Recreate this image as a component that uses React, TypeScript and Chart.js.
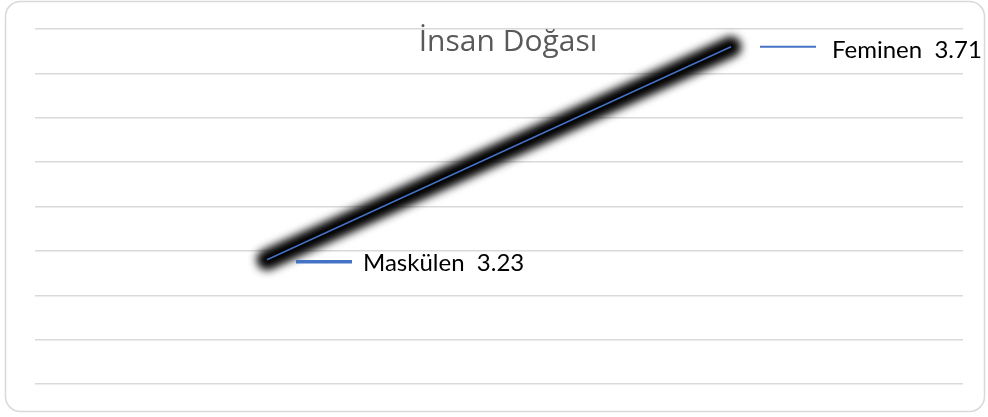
import React, { useEffect, useRef } from "react";
import { Chart, registerables } from "chart.js";

Chart.register(...registerables);

const categories = ["Maskülen", "Feminen"];
const values = [3.23, 3.71];
const gridValues = [2.95, 3.05, 3.15, 3.25, 3.35, 3.45, 3.55, 3.65, 3.75];
const titleText = "İnsan Doğası";

const LABEL_FONT = "Lato";
const TITLE_FONT = "'Open Sans'";

const decorPlugin = {
  id: "decor",
  beforeDraw(chart: any) {
    const ctx = chart.ctx;
    ctx.save();
    ctx.fillStyle = "#ffffff";
    ctx.fillRect(0, 0, chart.width, chart.height);
    ctx.strokeStyle = "#d9d9d9";
    ctx.lineWidth = 1.5;
    ctx.beginPath();
    (ctx as any).roundRect(5.5, 1.5, 979, 410, 15);
    ctx.stroke();
    ctx.restore();
  },
  beforeDatasetDraw(chart: any, args: any) {
    if (args.index === 1) {
      chart.ctx.save();
      chart.ctx.filter = "blur(4px)";
    }
  },
  afterDatasetDraw(chart: any, args: any) {
    if (args.index === 1) {
      chart.ctx.restore();
    }
  },
  afterDraw(chart: any) {
    const ctx = chart.ctx;
    ctx.save();
    // title
    ctx.fillStyle = "#595959";
    ctx.font = `30px ${TITLE_FONT}`;
    ctx.textAlign = "center";
    ctx.textBaseline = "alphabetic";
    ctx.fillText(titleText, 508, 51);
    // data labels with leader lines
    const meta = chart.getDatasetMeta(0);
    meta.data.forEach((pt: any, i: number) => {
      const x = pt.x;
      const y = pt.y;
      const isFirst = i === 0;
      const ly = isFirst ? y + 2 : y;
      ctx.strokeStyle = "#4472c4";
      ctx.lineWidth = isFirst ? 3.5 : 2;
      ctx.beginPath();
      ctx.moveTo(x + 29, ly);
      ctx.lineTo(x + 85, ly);
      ctx.stroke();
      ctx.fillStyle = "#000000";
      ctx.font = `24px ${LABEL_FONT}`;
      ctx.textAlign = "left";
      ctx.textBaseline = "alphabetic";
      const tx = isFirst ? x + 96 : x + 101;
      const ty = y + 11;
      ctx.fillText(`${categories[i]}  ${values[i].toFixed(2)}`, tx, ty);
    });
    ctx.restore();
  },
};

export default function App() {
  const ref = useRef<HTMLCanvasElement | null>(null);
  useEffect(() => {
    document.body.style.margin = "0";
    const chart = new Chart(ref.current as HTMLCanvasElement, {
      type: "line",
      data: {
        labels: categories,
        datasets: [
          {
            data: values,
            borderColor: "#4472c4",
            borderWidth: 1.5,
            pointRadius: 0,
            clip: false as any,
          },
          {
            data: values,
            borderColor: "#000000",
            borderWidth: 21,
            borderCapStyle: "round",
            pointRadius: 0,
            clip: false as any,
          },
        ],
      },
      options: {
        animation: false,
        responsive: false,
        layout: { padding: { left: 35, right: 25, top: 29, bottom: 33 } },
        plugins: {
          legend: { display: false },
          tooltip: { enabled: false },
          title: { display: false },
        },
        scales: {
          x: {
            display: false,
            offset: true,
          },
          y: {
            min: 2.95,
            max: 3.75,
            afterBuildTicks: (scale: any) => {
              scale.ticks = gridValues.map((v) => ({ value: v }));
            },
            ticks: { display: false },
            border: { display: false },
            grid: { color: "#d9d9d9", lineWidth: 1.5, drawTicks: false },
          },
        },
      },
      plugins: [decorPlugin],
    });
    return () => chart.destroy();
  }, []);
  return (
    <div style={{ width: 988, height: 417 }}>
      <canvas ref={ref} width={988} height={417} />
    </div>
  );
}
